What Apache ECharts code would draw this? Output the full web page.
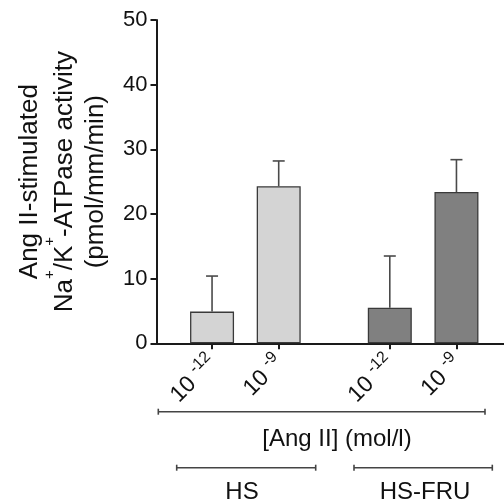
<!DOCTYPE html>
<html>
<head>
<meta charset="utf-8">
<script src="https://cdn.jsdelivr.net/npm/echarts@6/dist/echarts.min.js"></script>
<style>
  html, body { margin: 0; padding: 0; background: #fff; }
  #chart { width: 504px; height: 501px; }
</style>
</head>
<body>
<div id="chart"></div>
<script>
// data
var doses = ['-12', '-9', '-12', '-9']
var groups = ['HS', 'HS', 'HS-FRU', 'HS-FRU']
var xPos = [2.5, 5.5, 10.5, 13.5]
var activity = [4.9, 24.3, 5.5, 23.4]
var errUp = [5.5, 3.9, 8.0, 5.0]
var yTicks = [0, 10, 20, 30, 40, 50]

var groupColor = { 'HS': '#d4d4d4', 'HS-FRU': '#808080' }
var font = 'Liberation Sans, Arial, sans-serif'

var chart = echarts.init(document.getElementById('chart'))

chart.setOption({
  backgroundColor: '#fff',
  animation: false,
  textStyle: { fontFamily: font },
  grid: {
    left: 156.5,
    right: -8,
    top: 20,
    bottom: 157.7,
    outerBoundsMode: 'none'
  },
  xAxis: {
    type: 'value',
    min: 0,
    max: 16,
    splitLine: { show: false },
    axisLine: { lineStyle: { color: '#1a1a1a', width: 2 } },
    axisTick: {
      customValues: xPos,
      length: 6,
      lineStyle: { color: '#1a1a1a', width: 2 }
    },
    axisLabel: {
      customValues: xPos,
      rotate: 45,
      margin: 15,
      formatter: function (v) {
        var i = xPos.indexOf(v)
        return '{b|10 }{s|' + doses[i] + '}'
      },
      rich: {
        b: { fontSize: 23, color: '#111', fontFamily: font, verticalAlign: 'bottom', lineHeight: 27 },
        s: { fontSize: 16, color: '#111', fontFamily: font, verticalAlign: 'top' }
      }
    }
  },
  yAxis: {
    type: 'value',
    min: yTicks[0],
    max: yTicks[yTicks.length - 1],
    interval: 10,
    splitLine: { show: false },
    axisLine: { show: true, lineStyle: { color: '#1a1a1a', width: 2 } },
    axisTick: { show: true, length: 6, lineStyle: { color: '#1a1a1a', width: 2 } },
    axisLabel: { fontSize: 22, color: '#111', margin: 9, fontFamily: font },
    name: '{t|Ang II-stimulated}\n{t|Na}{sup|+}{t|/K}{sup|+}{t|-ATPase activity}\n{t|(pmol/mm/min)}',
    nameLocation: 'middle',
    nameRotate: 90,
    nameGap: 48,
    nameTextStyle: {
      fontFamily: font,
      rich: {
        t: { fontSize: 26, color: '#111', fontFamily: font, lineHeight: 31, verticalAlign: 'bottom' },
        sup: { fontSize: 15, color: '#111', fontFamily: font, lineHeight: 35, verticalAlign: 'top' }
      }
    }
  },
  series: [
    {
      type: 'bar',
      barWidth: 44,
      data: xPos.map(function (x, i) {
        return {
          value: [x, activity[i]],
          itemStyle: {
            color: groupColor[groups[i]],
            borderColor: '#3a3a3a',
            borderWidth: 1.3
          }
        }
      }),
      z: 3
    },
    {
      type: 'custom',
      data: xPos.map(function (x, i) { return [x, activity[i], errUp[i]] }),
      z: 2,
      renderItem: function (params, api) {
        var x = api.value(0)
        var y = api.value(1)
        var e = api.value(2)
        var base = api.coord([x, y])
        var top = api.coord([x, y + e])
        var st = { stroke: '#4a4a4a', lineWidth: 1.6 }
        return {
          type: 'group',
          children: [
            { type: 'line', shape: { x1: base[0], y1: base[1], x2: top[0], y2: top[1] }, style: st },
            { type: 'line', shape: { x1: top[0] - 6, y1: top[1], x2: top[0] + 6, y2: top[1] }, style: st }
          ]
        }
      }
    }
  ],
  graphic: [
    // [Ang II] bracket
    { type: 'line', shape: { x1: 158.3, y1: 411.7, x2: 485, y2: 411.7 }, style: { stroke: '#444', lineWidth: 1.6 } },
    { type: 'line', shape: { x1: 158.3, y1: 408.7, x2: 158.3, y2: 414.7 }, style: { stroke: '#444', lineWidth: 1.6 } },
    { type: 'line', shape: { x1: 485, y1: 408.7, x2: 485, y2: 414.7 }, style: { stroke: '#444', lineWidth: 1.6 } },
    { type: 'text', x: 337, y: 427, style: { text: '[Ang II] (mol/l)', font: '24px ' + font, fill: '#111', textAlign: 'center', textVerticalAlign: 'top' } },
    // HS
    { type: 'line', shape: { x1: 176.7, y1: 467.7, x2: 315.7, y2: 467.7 }, style: { stroke: '#444', lineWidth: 1.6 } },
    { type: 'line', shape: { x1: 176.7, y1: 464.7, x2: 176.7, y2: 470.7 }, style: { stroke: '#444', lineWidth: 1.6 } },
    { type: 'line', shape: { x1: 315.7, y1: 464.7, x2: 315.7, y2: 470.7 }, style: { stroke: '#444', lineWidth: 1.6 } },
    { type: 'text', x: 242, y: 480, style: { text: 'HS', font: '24px ' + font, fill: '#111', textAlign: 'center', textVerticalAlign: 'top' } },
    // HS-FRU
    { type: 'line', shape: { x1: 354, y1: 467.7, x2: 492.3, y2: 467.7 }, style: { stroke: '#444', lineWidth: 1.6 } },
    { type: 'line', shape: { x1: 354, y1: 464.7, x2: 354, y2: 470.7 }, style: { stroke: '#444', lineWidth: 1.6 } },
    { type: 'line', shape: { x1: 492.3, y1: 464.7, x2: 492.3, y2: 470.7 }, style: { stroke: '#444', lineWidth: 1.6 } },
    { type: 'text', x: 425, y: 480, style: { text: 'HS-FRU', font: '24px ' + font, fill: '#111', textAlign: 'center', textVerticalAlign: 'top' } }
  ]
})
</script>
</body>
</html>
